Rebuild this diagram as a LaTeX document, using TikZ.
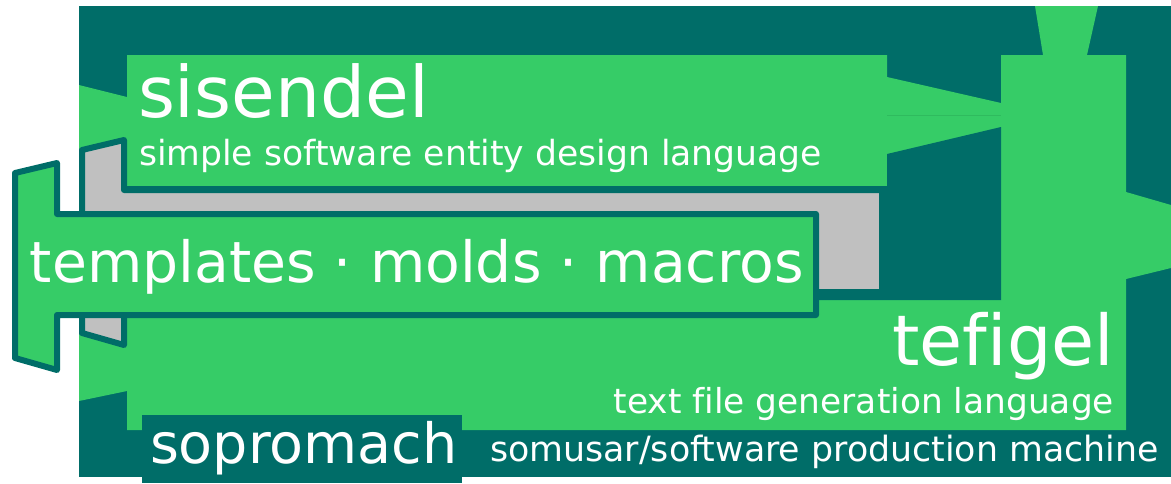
\documentclass[tikz,border=0pt]{standalone}
\usepackage{fontspec}
\setmainfont{DejaVu Sans}[Ligatures=NoCommon]
\definecolor{teal}{HTML}{006D68}
\definecolor{mgreen}{HTML}{36CC67}
\definecolor{lgreen}{HTML}{2FBB5E}
\definecolor{mgrey}{HTML}{C0C0C0}
\tikzset{
  txt/.style={text=white, inner sep=0pt, outer sep=0pt},
  outlined/.style={draw=teal, line width=6pt, line join=round}
}
\begin{document}
\begin{tikzpicture}[x=1pt,y=-1pt]
\useasboundingbox (0,0) rectangle (1171,483);
% background machine housing
\fill[teal] (79,6) rectangle (1171,477);
% green machine body (incl. sisendel box and funnels)
\fill[mgreen] (79,85) -- (127,97) -- (127,55) -- (887,55) -- (887,77) -- (1001,103)
  -- (1001,55) -- (1043,55) -- (1035,6) -- (1098,6) -- (1087,55) -- (1126,55)
  -- (1126,192) -- (1171,205) -- (1171,268) -- (1126,279) -- (1126,430)
  -- (127,430) -- (127,391) -- (79,401) -- cycle;
% cavity below sisendel
\fill[teal] (887,154) -- (1001,127) -- (1001,300) -- (127,300) -- (127,186) -- (887,186) -- cycle;
% faint seam in the funnel
\draw[lgreen, line width=1pt] (887,115) -- (1001,115);
% grey mold
\filldraw[fill=mgrey, outlined] (82,150) -- (124,140) -- (124,190) -- (882,190) -- (882,292)
  -- (124,292) -- (124,345) -- (82,333) -- cycle;
% templates piece
\filldraw[fill=mgreen, outlined] (15,173) -- (57,163) -- (57,214) -- (816,214) -- (816,315)
  -- (57,315) -- (57,370) -- (15,358) -- cycle;
% sopromach plate
\fill[teal] (142,415) rectangle (462,483);
% texts
\node[txt, anchor=base west, font=\fontsize{71}{71}\selectfont] (sisendel) at (138,117) {sisendel};
\node[txt, anchor=base west, font=\fontsize{34.6}{34.6}\selectfont] (sisendeldesc) at (139,165) {simple software entity design language};
\node[txt, anchor=base west, font=\fontsize{56.8}{56.8}\selectfont] (templates) at (30,282) {templates · molds · macros};
\node[txt, anchor=base east, font=\fontsize{70}{70}\selectfont] (tefigel) at (1114,365) {tefigel};
\node[txt, anchor=base east, font=\fontsize{34.4}{34.4}\selectfont] (tefigeldesc) at (1114,413) {text file generation language};
\node[txt, anchor=base west, font=\fontsize{55.5}{55.5}\selectfont] (sopromach) at (150,463) {sopromach};
\node[txt, anchor=base west, font=\fontsize{34.8}{34.8}\selectfont] (somusar) at (490,461) {somusar/software production machine};
\end{tikzpicture}
\end{document}
